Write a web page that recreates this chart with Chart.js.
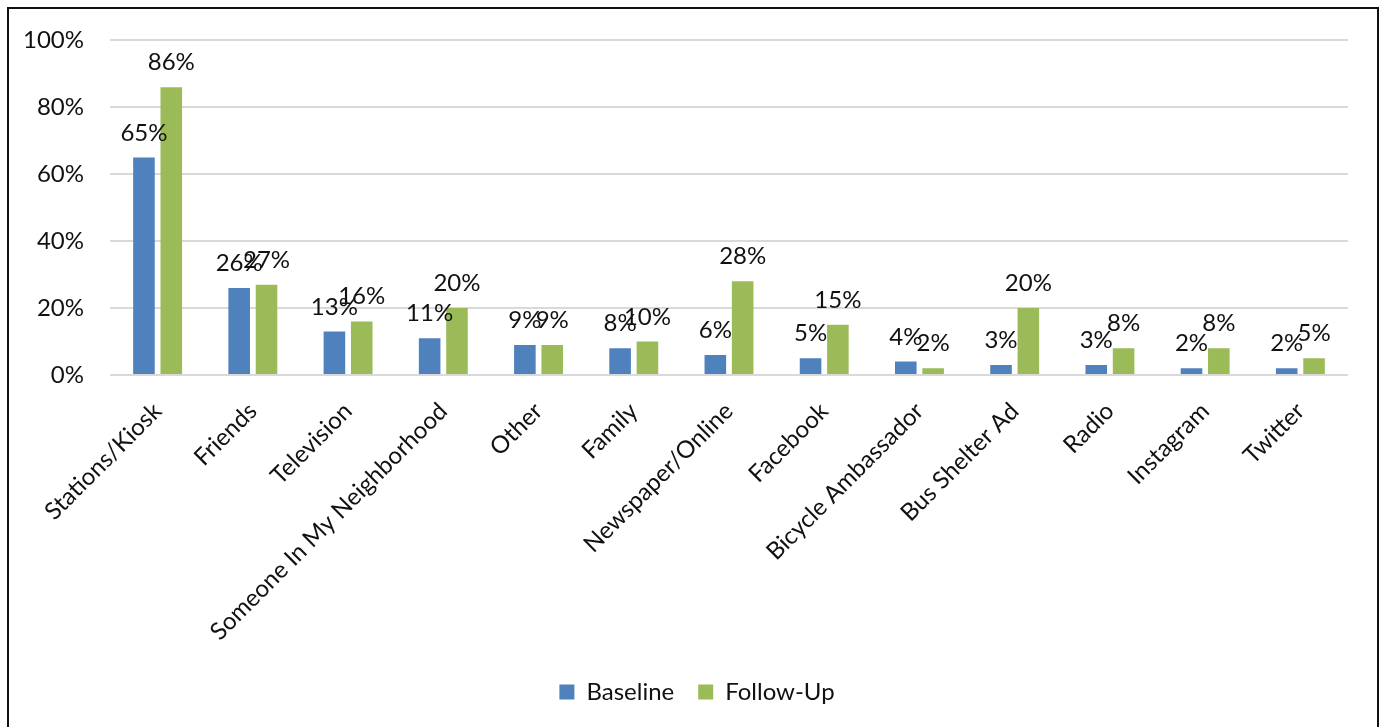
<!DOCTYPE html>
<html lang="en">
<head>
    <meta charset="UTF-8">
    <title>Baseline vs Follow-Up</title>
    <script src="https://cdn.jsdelivr.net/npm/chart.js"></script>
    <style>
        body { margin: 0; background: #fff; }
        #wrap { position: relative; width: 1379px; height: 727px; overflow: hidden; }
        #frame { position: absolute; left: 7px; top: 7px; width: 1368px; height: 760px; border: 2px solid #111; }
        #chart { position: absolute; left: 0; top: 0; }
    </style>
</head>
<body>
    <div id="wrap">
        <div id="frame"></div>
        <canvas id="chart" width="1379" height="727"></canvas>
    </div>

    <script>
        const categorias = ['Stations/Kiosk', 'Friends', 'Television', 'Someone In My Neighborhood', 'Other',
            'Family', 'Newspaper/Online', 'Facebook', 'Bicycle Ambassador', 'Bus Shelter Ad', 'Radio',
            'Instagram', 'Twitter'];
        const baseline = [65, 26, 13, 11, 9, 8, 6, 5, 4, 3, 3, 2, 2];
        const followUp = [86, 27, 16, 20, 9, 10, 28, 15, 2, 20, 8, 8, 5];
        const ticksY = [0, 20, 40, 60, 80, 100];

        const fonte = 'Lato, "Open Sans", sans-serif';
        Chart.defaults.font.family = fonte;
        Chart.defaults.font.size = 24;
        Chart.defaults.color = '#111';

        // rótulos de valor em cima de cada barra
        const rotulos = {
            id: 'rotulos',
            afterDatasetsDraw(chart) {
                const ctx = chart.ctx;
                ctx.save();
                ctx.font = '24px ' + fonte;
                ctx.fillStyle = '#111';
                ctx.textAlign = 'center';
                ctx.textBaseline = 'alphabetic';
                chart.data.datasets.forEach((ds, i) => {
                    chart.getDatasetMeta(i).data.forEach((bar, j) => {
                        ctx.fillText(ds.data[j] + '%', bar.x, bar.y - 17);
                    });
                });
                ctx.restore();
            }
        };

        // empurra a legenda um pouco para a direita
        const moveLegenda = {
            id: 'moveLegenda',
            afterLayout(chart) {
                chart.legend.left += 23;
                chart.legend.right += 23;
            }
        };

        const ctx = document.getElementById('chart').getContext('2d');
        const chart = new Chart(ctx, {
            type: 'bar',
            data: {
                labels: categorias,
                datasets: [
                    { label: 'Baseline', data: baseline, backgroundColor: '#4F81BD' },
                    { label: 'Follow-Up', data: followUp, backgroundColor: '#9BBB59' }
                ]
            },
            options: {
                responsive: false,
                animation: false,
                categoryPercentage: 0.574,
                barPercentage: 0.79,
                layout: { padding: { left: 0, top: 38, right: 31, bottom: 13 } },
                plugins: {
                    tooltip: { enabled: false },
                    legend: {
                        position: 'bottom',
                        labels: { boxWidth: 15, boxHeight: 15, padding: 24, color: '#111' }
                    }
                },
                scales: {
                    x: {
                        grid: { display: false },
                        border: { display: false },
                        ticks: { autoSkip: false, maxRotation: 45, minRotation: 45, padding: 14 },
                        afterFit(scale) { scale.height = 281; }
                    },
                    y: {
                        min: 0,
                        max: 100,
                        grid: { color: '#D9D9D9', lineWidth: 2, drawTicks: false },
                        border: { display: false },
                        ticks: {
                            stepSize: 20,
                            padding: 26,
                            callback: v => ticksY.includes(v) ? v + '%' : ''
                        },
                        afterFit(scale) { scale.width = 110; }
                    }
                }
            },
            plugins: [rotulos, moveLegenda]
        });
    </script>
</body>
</html>
